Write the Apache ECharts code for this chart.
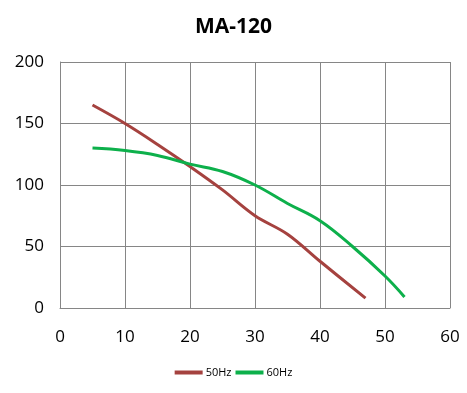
<!DOCTYPE html>
<html><head><meta charset="utf-8">
<script src="https://cdn.jsdelivr.net/npm/echarts@6/dist/echarts.min.js"></script>
<style>html,body{margin:0;padding:0;background:#fff}#c{width:467px;height:393px}</style>
</head><body><div id="c"></div>
<script>
const xTicks = [0, 10, 20, 30, 40, 50, 60];
const yTicks = [0, 50, 100, 150, 200];
const flow50 = [5, 10, 15, 20, 25, 30, 35, 40, 47];
const head50 = [165, 150, 133, 115, 96, 75, 60, 38, 8];
const flow60 = [5, 10, 15, 20, 25, 30, 35, 40, 45, 50, 53];
const head60 = [130, 128, 124, 117, 111, 100, 85, 71, 50, 26, 9];
const seriesNames = ['50Hz', '60Hz'];

const pair = (xs, ys) => xs.map((x, i) => [x, ys[i]]);
const font = 'Open Sans, Liberation Sans, sans-serif';
const chart = echarts.init(document.getElementById('c'));
chart.setOption({
  animation: false,
  title: { text: 'MA-120', left: 'center', top: 12,
    textStyle: { fontFamily: font, fontSize: 21, fontWeight: 'bold', color: '#000' } },
  grid: { left: 60, right: 17, top: 62, bottom: 85 },
  legend: { bottom: 10, left: 'center', itemWidth: 28, itemHeight: 4, itemGap: 4,
    icon: 'rect',
    textStyle: { fontFamily: font, fontSize: 11, color: '#000', padding: [0, 0, 0, -2] },
    data: seriesNames },
  xAxis: { type: 'value', min: xTicks[0], max: xTicks[xTicks.length - 1], interval: 10,
    axisLine: { show: true, lineStyle: { color: '#868686' } }, axisTick: { show: false },
    splitLine: { show: true, lineStyle: { color: '#868686', width: 1 } },
    axisLabel: { fontFamily: font, fontSize: 17, color: '#000', margin: 21 } },
  yAxis: { type: 'value', min: yTicks[0], max: yTicks[yTicks.length - 1], interval: 50,
    axisLine: { show: true, lineStyle: { color: '#868686' } }, axisTick: { show: false },
    splitLine: { show: true, lineStyle: { color: '#868686', width: 1 } },
    axisLabel: { fontFamily: font, fontSize: 17, color: '#000', margin: 16 } },
  series: [
    { name: seriesNames[0], type: 'line', smooth: 0.35, showSymbol: false,
      data: pair(flow50, head50), color: '#A5423F',
      lineStyle: { width: 3, color: '#A5423F' } },
    { name: seriesNames[1], type: 'line', smooth: 0.4, showSymbol: false,
      data: pair(flow60, head60), color: '#0DB04B',
      lineStyle: { width: 3, color: '#0DB04B' } }
  ]
});
</script></body></html>
